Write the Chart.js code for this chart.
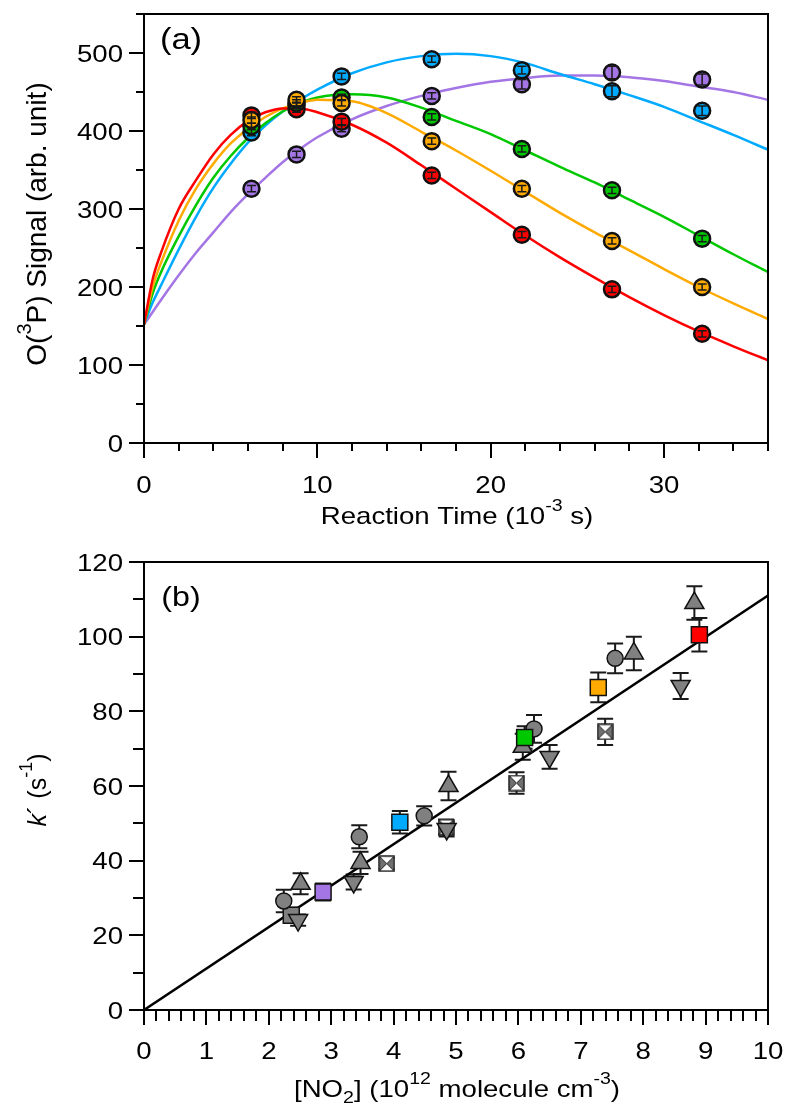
<!DOCTYPE html>
<html>
<head>
<meta charset="utf-8">
<script src="https://cdn.jsdelivr.net/npm/chart.js@4.4.1/dist/chart.umd.min.js"></script>
<style>
  body { margin: 0; background: #fff; }
  canvas { display: block; }
</style>
</head>
<body>
<canvas id="chartA" width="786" height="540"></canvas>
<canvas id="chartB" width="786" height="566"></canvas>
<script>
// ---- Panel (a): O(3P) signal vs reaction time ----
const timesA = [6.2, 8.8, 11.4, 16.6, 21.8, 27.0, 32.2];
const redPts    = [420, 428, 412, 343, 267, 197, 140];
const orangePts = [414, 440, 436, 387, 326, 259, 200];
const greenPts  = [406, 436, 443, 418, 377, 324, 262];
const bluePts   = [398, 433, 470, 492, 478, 451, 426];
const purplePts = [326, 370, 403, 445, 460, 475, 466];
const redErr    = [4, 4, 4, 4, 4, 4, 4];
const orangeErr = [4, 4, 4, 4, 4, 4, 4];
const greenErr  = [4, 4, 4, 4, 4, 4, 4];
const blueErr   = [4, 4, 4, 4, 5, 7, 6];
const purpleErr = [4, 4, 4, 4, 6, 8, 7];

// fitted curves
const curveT      = [0, 0.5, 1, 2, 3, 4, 5, 6, 7, 8, 9, 10, 12, 14, 16, 18, 20, 22, 24, 26, 28, 30, 32, 34, 36];
const redCurve    = [152, 210, 245, 300, 337, 370, 395, 413, 424, 429, 429, 424, 408, 385, 356, 326, 296, 266, 238, 212, 187, 164, 143, 124, 106];
const orangeCurve = [152, 200, 232, 285, 326, 358, 384, 403, 418, 429, 436, 440, 438, 423, 399, 375, 349, 322, 295, 270, 247, 223, 200, 179, 159];
const greenCurve  = [152, 192, 220, 265, 305, 340, 368, 391, 410, 425, 436, 443, 447, 443, 430, 413, 396, 375, 354, 334, 312, 290, 266, 242, 219];
const blueCurve   = [152, 180, 203, 248, 290, 327, 358, 385, 407, 425, 440, 453, 474, 488, 496, 499, 496, 487, 473, 460, 446, 431, 413, 395, 376];
const purpleCurve = [152, 168, 184, 215, 244, 270, 296, 319, 340, 360, 377, 392, 415, 432, 445, 455, 463, 468, 471, 471, 469, 464, 457, 450, 440];

const ticksAX = [0, 10, 20, 30];
const ticksAY = [0, 100, 200, 300, 400, 500];

// ---- Panel (b): k' vs [NO2] ----
const sqColX = [2.87, 4.1, 6.1, 7.28, 8.9];
const sqColY = [31.6, 50.3, 73.0, 86.4, 100.5];
const sqColErr = [2.3, 3, 3, 4, 4.5];
const circX = [2.24, 3.45, 4.49, 6.25, 7.55];
const circY = [29.2, 46.4, 52.0, 75.3, 94.2];
const circErr = [3, 3.1, 2.6, 3.7, 4];
const upX = [2.51, 3.47, 4.88, 6.07, 7.85, 8.82];
const upY = [33.8, 39.4, 60.0, 70.5, 95.5, 109.0];
const upErr = [2.8, 3, 3.8, 3.5, 4.5, 4.5];
const downX = [2.47, 3.36, 4.85, 6.5, 8.6];
const downY = [24.1, 34.3, 48.5, 67.8, 86.8];
const downErr = [1.5, 2, 2, 3.2, 3.5];
const graySqX = [2.36];
const graySqY = [25.4];
const graySqErr = [2];
const crossX = [3.89, 4.84, 5.97, 7.39];
const crossY = [39.2, 49.0, 60.8, 74.5];
const crossErr = [1.5, 2, 2.9, 3.5];
const fitX = [0, 10];
const fitY = [0, 111];

const ticksBX = [0, 1, 2, 3, 4, 5, 6, 7, 8, 9, 10];
const ticksBY = [0, 20, 40, 60, 80, 100, 120];

const RED = '#ff0000', ORANGE = '#ffaa00', GREEN = '#00c800', BLUE = '#00aaff', PURPLE = '#a475e4', GRAY = '#808080';
const FONT = 'Liberation Sans, Arial, sans-serif';
const HS = 1.15; // horizontal stretch of the lettering

const pts = (xs, ys) => xs.map((x, i) => ({ x: x, y: ys[i] }));

// crossed box marker
function crossBox() {
  const c = document.createElement('canvas');
  const s = 17;
  c.width = s; c.height = s;
  const g = c.getContext('2d');
  g.fillStyle = '#fff';
  g.fillRect(1, 1, s - 2, s - 2);
  g.fillStyle = '#707070';
  g.beginPath(); g.moveTo(1, 1); g.lineTo(s / 2, s / 2); g.lineTo(1, s - 1); g.closePath(); g.fill();
  g.beginPath(); g.moveTo(s - 1, 1); g.lineTo(s / 2, s / 2); g.lineTo(s - 1, s - 1); g.closePath(); g.fill();
  g.strokeStyle = '#222'; g.lineWidth = 1;
  g.beginPath(); g.moveTo(1, 1); g.lineTo(s - 1, s - 1); g.moveTo(s - 1, 1); g.lineTo(1, s - 1); g.stroke();
  g.lineWidth = 1.5;
  g.strokeRect(1, 1, s - 2, s - 2);
  return c;
}

function stretchedText(ctx, txt, x, y, align, size) {
  ctx.save();
  ctx.translate(x, y);
  ctx.scale(HS, 1);
  ctx.font = size + 'px ' + FONT;
  ctx.textAlign = align;
  ctx.textBaseline = 'alphabetic';
  ctx.fillStyle = '#000';
  ctx.fillText(txt, 0, 0);
  ctx.restore();
}

// frame, major/minor ticks and tick labels
const frameTicks = {
  id: 'frameTicks',
  afterDraw(chart, args, o) {
    const { ctx, chartArea: a, scales: { x, y } } = chart;
    ctx.save();
    ctx.strokeStyle = '#000';
    ctx.lineWidth = 2;
    ctx.strokeRect(a.left, a.top, a.right - a.left, a.bottom - a.top);
    ctx.beginPath();
    const n = Math.round((x.max - x.min) / o.xMinor);
    for (let i = 0; i <= n; i++) {
      const v = x.min + i * o.xMinor;
      const px = Math.round(x.getPixelForValue(v));
      const major = Math.abs(v / o.xMajor - Math.round(v / o.xMajor)) < 1e-6;
      ctx.moveTo(px, a.bottom);
      ctx.lineTo(px, a.bottom + (major ? 15 : o.minorLen));
    }
    const m = Math.round((y.max - y.min) / o.yMinor);
    for (let i = 0; i <= m; i++) {
      const v = y.min + i * o.yMinor;
      const py = Math.round(y.getPixelForValue(v));
      const major = Math.abs(v / o.yMajor - Math.round(v / o.yMajor)) < 1e-6;
      ctx.moveTo(a.left, py);
      ctx.lineTo(a.left - (major ? 15 : o.minorLen), py);
    }
    ctx.stroke();
    ctx.restore();
    o.xTicks.forEach(v => stretchedText(ctx, String(v), x.getPixelForValue(v), a.bottom + o.xLabelDy, 'center', 24));
    o.yTicks.forEach(v => stretchedText(ctx, String(v), 123, y.getPixelForValue(v) + 8.6, 'right', 24));
  }
};

// vertical error bars
function drawErrs(chart, o) {
  const { ctx, scales: { x, y } } = chart;
  ctx.save();
  ctx.strokeStyle = o.color;
  ctx.lineWidth = o.width;
  chart.data.datasets.forEach(ds => {
    if (!ds.errs) return;
    ds.data.forEach((p, i) => {
      const px = x.getPixelForValue(p.x);
      const y1 = y.getPixelForValue(p.y + ds.errs[i]);
      const y2 = y.getPixelForValue(p.y - ds.errs[i]);
      ctx.beginPath();
      ctx.moveTo(px, y1); ctx.lineTo(px, y2);
      ctx.moveTo(px - o.cap, y1); ctx.lineTo(px + o.cap, y1);
      ctx.moveTo(px - o.cap, y2); ctx.lineTo(px + o.cap, y2);
      ctx.stroke();
    });
  });
  ctx.restore();
}
const errorBars = {
  id: 'errorBars',
  beforeDatasetsDraw(chart, args, o) { if (!o.onTop) drawErrs(chart, o); },
  afterDatasetsDraw(chart, args, o) { if (o.onTop) drawErrs(chart, o); }
};

// text with super/subscripts
function drawRich(ctx, parts, cx, cy, size, rot, hs) {
  ctx.save();
  ctx.translate(cx, cy);
  ctx.scale(hs || 1, 1);
  if (rot) ctx.rotate(rot);
  ctx.fillStyle = '#000';
  ctx.textBaseline = 'alphabetic';
  ctx.textAlign = 'left';
  const small = Math.round(size * 0.7);
  const fontOf = p => (p.it ? 'italic ' : '') + ((p.sup || p.sub) ? small : size) + 'px ' + FONT;
  let total = 0;
  parts.forEach(p => { ctx.font = fontOf(p); total += ctx.measureText(p.t).width; });
  let xx = -total / 2;
  parts.forEach(p => {
    ctx.font = fontOf(p);
    const dy = p.sup ? -size * 0.55 : (p.sub ? size * 0.25 : 0);
    ctx.fillText(p.t, xx, dy);
    xx += ctx.measureText(p.t).width;
  });
  ctx.restore();
}
const labels = {
  id: 'labels',
  afterDraw(chart, args, o) {
    o.items.forEach(it => drawRich(chart.ctx, it.parts, it.x, it.y, it.size, it.rot || 0, it.hs));
  }
};

function axisOpts(min, max, ticks, fitSize, isX) {
  return {
    type: 'linear',
    min: min, max: max,
    afterBuildTicks: s => { s.ticks = ticks.map(v => ({ value: v })); },
    afterFit: s => {
      if (isX) s.height = fitSize; else s.width = fitSize;
      s.paddingTop = 0; s.paddingBottom = 0; s.paddingLeft = 0; s.paddingRight = 0;
    },
    grid: { display: false, drawTicks: false },
    border: { display: false },
    ticks: { display: false }
  };
}

const scatterDs = (data, errs, color, style, radius, extra) => Object.assign({
  type: 'scatter', data: data, errs: errs,
  pointStyle: style, pointRadius: radius, pointHoverRadius: radius,
  backgroundColor: color, borderColor: '#111', borderWidth: 1.5, order: 1
}, extra || {});

const curveDs = (ys, color) => ({
  type: 'line', data: pts(curveT, ys), borderColor: color, borderWidth: 2.5,
  pointRadius: 0, cubicInterpolationMode: 'monotone', fill: false, order: 10
});

Chart.defaults.font.family = FONT;

const dotStyle = { borderWidth: 2.5 };

new Chart(document.getElementById('chartA'), {
  type: 'scatter',
  data: {
    datasets: [
      scatterDs(pts(timesA, orangePts), orangeErr, ORANGE, 'circle', 8, dotStyle),
      scatterDs(pts(timesA, greenPts), greenErr, GREEN, 'circle', 8, dotStyle),
      scatterDs(pts(timesA, redPts), redErr, RED, 'circle', 8, dotStyle),
      scatterDs(pts(timesA, bluePts), blueErr, BLUE, 'circle', 8, dotStyle),
      scatterDs(pts(timesA, purplePts), purpleErr, PURPLE, 'circle', 8, dotStyle),
      curveDs(redCurve, RED),
      curveDs(orangeCurve, ORANGE),
      curveDs(greenCurve, GREEN),
      curveDs(blueCurve, BLUE),
      curveDs(purpleCurve, PURPLE)
    ]
  },
  options: {
    responsive: false,
    animation: false,
    layout: { padding: { top: 14, right: 18, left: 0, bottom: 0 } },
    scales: {
      x: axisOpts(0, 36, ticksAX, 97, true),
      y: axisOpts(0, 550, ticksAY, 144, false)
    },
    plugins: {
      legend: { display: false },
      tooltip: { enabled: false },
      frameTicks: { xMinor: 2, xMajor: 10, yMinor: 50, yMajor: 100, minorLen: 8, xTicks: ticksAX, yTicks: ticksAY, xLabelDy: 50 },
      errorBars: { onTop: true, color: '#1a1a1a', width: 1.5, cap: 4.5 },
      labels: {
        items: [
          { parts: [{ t: '(a)' }], x: 181, y: 49, size: 30, hs: HS },
          { parts: [{ t: 'Reaction Time (10' }, { t: '-3', sup: true }, { t: ' s)' }], x: 457, y: 524, size: 24, hs: HS },
          { parts: [{ t: 'O(' }, { t: '3', sup: true }, { t: 'P) Signal (arb. unit)' }], x: 46, y: 224, size: 28, rot: -Math.PI / 2 }
        ]
      }
    }
  },
  plugins: [frameTicks, errorBars, labels]
});

new Chart(document.getElementById('chartB'), {
  type: 'scatter',
  data: {
    datasets: [
      scatterDs(pts(sqColX, sqColY), sqColErr, [PURPLE, BLUE, GREEN, ORANGE, RED], 'rect', 11.3),
      scatterDs(pts(circX, circY), circErr, GRAY, 'circle', 8),
      scatterDs(pts(upX, upY), upErr, GRAY, 'triangle', 11),
      scatterDs(pts(downX, downY), downErr, GRAY, 'triangle', 11, { rotation: 180 }),
      scatterDs(pts(graySqX, graySqY), graySqErr, GRAY, 'rect', 11.3),
      scatterDs(pts(crossX, crossY), crossErr, GRAY, crossBox(), 8),
      {
        type: 'line', data: pts(fitX, fitY), borderColor: '#000', borderWidth: 2.5,
        pointRadius: 0, fill: false, order: 10
      }
    ]
  },
  options: {
    responsive: false,
    animation: false,
    layout: { padding: { top: 22, right: 18, left: 0, bottom: 0 } },
    scales: {
      x: axisOpts(0, 10, ticksBX, 96, true),
      y: axisOpts(0, 120, ticksBY, 144, false)
    },
    plugins: {
      legend: { display: false },
      tooltip: { enabled: false },
      frameTicks: { xMinor: 0.2, xMajor: 1, yMinor: 10, yMajor: 20, minorLen: 11, xTicks: ticksBX, yTicks: ticksBY, xLabelDy: 49 },
      errorBars: { onTop: false, color: '#1a1a1a', width: 2, cap: 8 },
      labels: {
        items: [
          { parts: [{ t: '(b)' }], x: 181, y: 66, size: 28, hs: HS },
          { parts: [{ t: '[NO' }, { t: '2', sub: true }, { t: '] (10' }, { t: '12', sup: true }, { t: ' molecule cm' }, { t: '-3', sup: true }, { t: ')' }], x: 457, y: 557, size: 24, hs: HS },
          { parts: [{ t: 'k', it: true }, { t: '\u00b4 (s' }, { t: '-1', sup: true }, { t: ')' }], x: 46, y: 250, size: 25, rot: -Math.PI / 2 }
        ]
      }
    }
  },
  plugins: [frameTicks, errorBars, labels]
});
</script>
</body>
</html>
